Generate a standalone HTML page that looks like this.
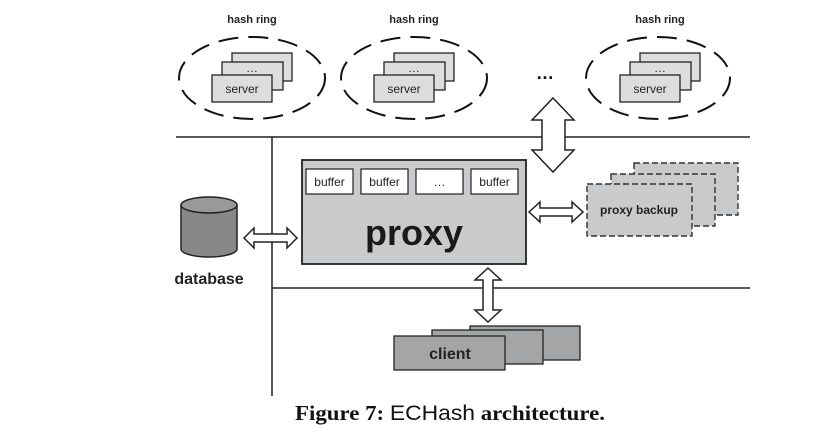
<!DOCTYPE html>
<html><head><style>
body{margin:0;background:#fff;}
svg{display:block;}
text{font-family:"Liberation Sans",sans-serif;}
</style></head><body>
<svg width="815" height="432" viewBox="0 0 815 432" xmlns="http://www.w3.org/2000/svg">
<g font-size="11" font-weight="bold" fill="#222" text-anchor="middle">
<text x="252" y="23">hash ring</text>
<text x="414" y="23">hash ring</text>
<text x="660" y="23">hash ring</text>
</g>
<g fill="none" stroke="#111" stroke-width="2" stroke-dasharray="20,10">
<ellipse cx="252" cy="78" rx="73" ry="41"/>
<ellipse cx="414" cy="78" rx="73" ry="41"/>
<ellipse cx="658" cy="78" rx="72" ry="41"/>
</g>
<g stroke="#222" stroke-width="1.3" fill="#ddd">
<g>
<rect x="232" y="53" width="60" height="28"/><rect x="222" y="62" width="61" height="28"/><rect x="212" y="75" width="60" height="27"/>
</g>
<g transform="translate(162,0)">
<rect x="232" y="53" width="60" height="28"/><rect x="222" y="62" width="61" height="28"/><rect x="212" y="75" width="60" height="27"/>
</g>
<g transform="translate(408,0)">
<rect x="232" y="53" width="60" height="28"/><rect x="222" y="62" width="61" height="28"/><rect x="212" y="75" width="60" height="27"/>
</g>
</g>
<g font-size="12" fill="#222" text-anchor="middle">
<text x="242" y="93">server</text><text x="252" y="72">…</text>
<text x="404" y="93">server</text><text x="414" y="72">…</text>
<text x="650" y="93">server</text><text x="660" y="72">…</text>
</g>
<text x="545" y="79" font-size="18" font-weight="bold" fill="#111" text-anchor="middle">…</text>
<g stroke="#222" stroke-width="1.5">
<line x1="176" y1="137" x2="750" y2="137"/>
<line x1="272" y1="137" x2="272" y2="396"/>
<line x1="272" y1="288" x2="750" y2="288"/>
</g>
<polygon points="553,98 574,120 565,120 565,150 574,150 553,172 532,150 542,150 542,120 532,120" fill="#fff" stroke="#222" stroke-width="1.5"/>
<rect x="302" y="160" width="224" height="104" fill="#c9cacc" stroke="#222" stroke-width="1.8"/>
<g fill="#fff" stroke="#222" stroke-width="1.2">
<rect x="306" y="169" width="47" height="25"/><rect x="361" y="169" width="47" height="25"/><rect x="416" y="169" width="47" height="25"/><rect x="471" y="169" width="47" height="25"/>
</g>
<g font-size="12" fill="#222" text-anchor="middle">
<text x="329.5" y="186">buffer</text><text x="384.5" y="186">buffer</text><text x="439.5" y="186">…</text><text x="494.5" y="186">buffer</text>
</g>
<text x="414" y="245" font-size="36" font-weight="bold" fill="#1a1a1a" text-anchor="middle">proxy</text>
<g fill="#c9cacc" stroke="#333" stroke-width="1.4" stroke-dasharray="6,3">
<rect x="634" y="163" width="104" height="52"/><rect x="611" y="174" width="104" height="52"/><rect x="587" y="184" width="105" height="52"/>
</g>
<text x="639" y="214" font-size="12" font-weight="bold" fill="#222" text-anchor="middle">proxy backup</text>
<polygon points="529,212 540,202 540,208 572,208 572,202 583,212 572,222 572,216 540,216 540,222" fill="#fff" stroke="#222" stroke-width="1.5"/>
<polygon points="244,238 254,228 254,234 287,234 287,228 297,238 287,248 287,242 254,242 254,248" fill="#fff" stroke="#222" stroke-width="1.5"/>
<polygon points="488,268 501,280 493,280 493,310 501,310 488,322 475,310 483,310 483,280 475,280" fill="#fff" stroke="#222" stroke-width="1.5"/>
<path d="M181,205 L181,249 A28,8 0 0 0 237,249 L237,205" fill="#888" stroke="#222" stroke-width="1.5"/>
<ellipse cx="209" cy="205" rx="28" ry="8" fill="#999" stroke="#222" stroke-width="1.5"/>
<text x="209" y="284" font-size="16" font-weight="bold" fill="#222" text-anchor="middle">database</text>
<g fill="#a4a5a7" stroke="#222" stroke-width="1.3">
<rect x="470" y="326" width="110" height="34"/><rect x="432" y="330" width="111" height="34"/><rect x="394" y="336" width="111" height="34"/>
</g>
<text x="450" y="359" font-size="16" font-weight="bold" fill="#222" text-anchor="middle">client</text>
<text x="295" y="420" font-size="21" fill="#111" textLength="310" lengthAdjust="spacingAndGlyphs" style="font-family:'Liberation Serif',serif"><tspan font-weight="bold">Figure 7:</tspan> <tspan style="font-family:'Liberation Sans',sans-serif">ECHash</tspan> <tspan font-weight="bold">architecture.</tspan></text>
</svg>
</body></html>
